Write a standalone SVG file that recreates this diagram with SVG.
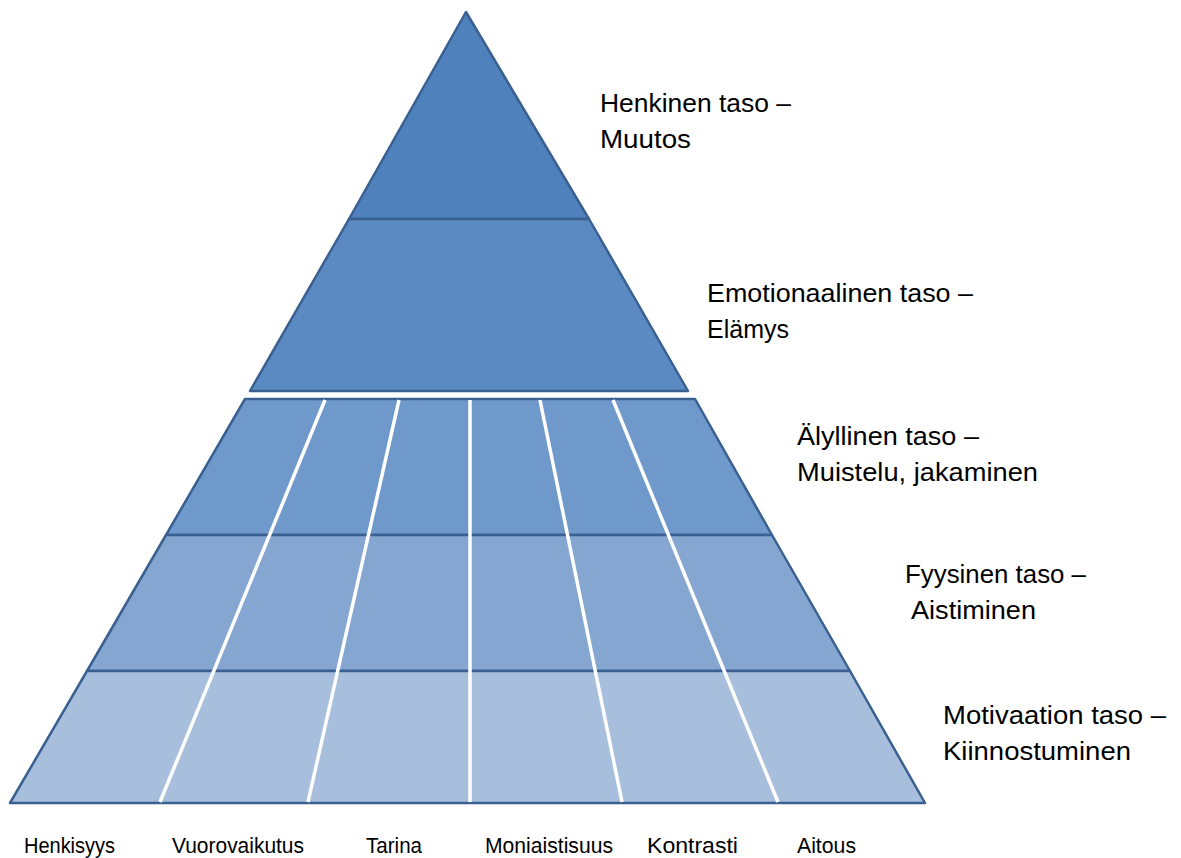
<svg xmlns="http://www.w3.org/2000/svg" width="1181" height="858" viewBox="0 0 1181 858">
<style>
.lvl{stroke:#3A6091;stroke-width:2.5;stroke-linejoin:round}
.div{stroke:#FFFFFF;stroke-width:3.5;stroke-linecap:butt;fill:none}
.lab{font-family:"Liberation Sans",Arial,sans-serif;font-size:26px;fill:#000}
.bot{font-family:"Liberation Sans",Arial,sans-serif;font-size:22px;fill:#000}
</style>
<rect width="1181" height="858" fill="#FFFFFF"/>
<g id="level-henkinen">
<polygon class="lvl" fill="#4F81BD" points="466,12 589,219 349,219"/>
</g>
<g id="level-emotionaalinen">
<polygon class="lvl" fill="#5B8AC2" points="349,219 589,219 688,391 250,391"/>
</g>
<g id="level-alyllinen">
<polygon class="lvl" fill="#6F98CB" points="245,399 695,399 772,535 166,535"/>
</g>
<g id="level-fyysinen">
<polygon class="lvl" fill="#84A6D0" points="166,535 772,535 850,671 87,671"/>
</g>
<g id="level-motivaatio">
<polygon class="lvl" fill="#A7BFDD" points="87,671 850,671 925,803 10,803"/>
</g>
<g id="dividers">
<line class="div" x1="325" y1="400" x2="160" y2="802"/>
<line class="div" x1="399" y1="400" x2="308" y2="802"/>
<line class="div" x1="470" y1="400" x2="470" y2="802"/>
<line class="div" x1="540" y1="400" x2="622" y2="802"/>
<line class="div" x1="613" y1="400" x2="778" y2="802"/>
</g>
<g id="labels-levels">
<text class="lab" x="600" y="112" textLength="191" lengthAdjust="spacingAndGlyphs">Henkinen taso –</text>
<text class="lab" x="600" y="148" textLength="91" lengthAdjust="spacingAndGlyphs">Muutos</text>
<text class="lab" x="707" y="302" textLength="266" lengthAdjust="spacingAndGlyphs">Emotionaalinen taso –</text>
<text class="lab" x="707" y="338" textLength="82" lengthAdjust="spacingAndGlyphs">Elämys</text>
<text class="lab" x="797" y="445" textLength="182" lengthAdjust="spacingAndGlyphs">Älyllinen taso –</text>
<text class="lab" x="797" y="481" textLength="241" lengthAdjust="spacingAndGlyphs">Muistelu, jakaminen</text>
<text class="lab" x="905" y="583" textLength="181" lengthAdjust="spacingAndGlyphs">Fyysinen taso –</text>
<text class="lab" x="911" y="619" textLength="125" lengthAdjust="spacingAndGlyphs">Aistiminen</text>
<text class="lab" x="943" y="724" textLength="223" lengthAdjust="spacingAndGlyphs">Motivaation taso –</text>
<text class="lab" x="943" y="760" textLength="188" lengthAdjust="spacingAndGlyphs">Kiinnostuminen</text>
</g>
<g id="labels-columns">
<text class="bot" x="24" y="853" textLength="91" lengthAdjust="spacingAndGlyphs">Henkisyys</text>
<text class="bot" x="172" y="853" textLength="132" lengthAdjust="spacingAndGlyphs">Vuorovaikutus</text>
<text class="bot" x="366" y="853" textLength="56" lengthAdjust="spacingAndGlyphs">Tarina</text>
<text class="bot" x="485" y="853" textLength="128" lengthAdjust="spacingAndGlyphs">Moniaistisuus</text>
<text class="bot" x="647" y="853" textLength="91" lengthAdjust="spacingAndGlyphs">Kontrasti</text>
<text class="bot" x="797" y="853" textLength="59" lengthAdjust="spacingAndGlyphs">Aitous</text>
</g>
</svg>
